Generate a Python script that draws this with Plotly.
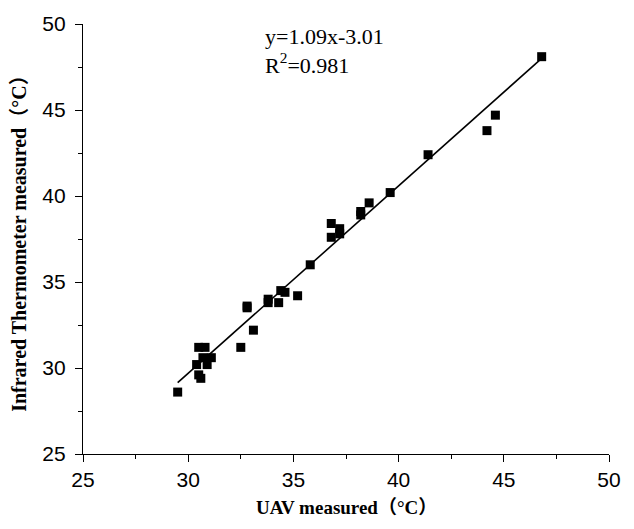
import plotly.graph_objects as go

# Data
uav = [46.8, 44.6, 44.2, 41.4, 39.6, 38.6, 38.2, 38.2, 36.8, 37.2, 37.2, 36.8,
       35.8, 35.2, 34.4, 34.6, 34.3, 33.8, 33.8, 32.8, 32.8, 33.1, 32.5,
       30.5, 30.8, 29.5, 30.7, 31.1, 30.4, 30.9, 30.5, 30.6]
thermo = [48.1, 44.7, 43.8, 42.4, 40.2, 39.6, 39.1, 38.9, 38.4, 38.1, 37.8, 37.6,
          36.0, 34.2, 34.5, 34.4, 33.8, 34.0, 33.8, 33.6, 33.5, 32.2, 31.2,
          31.2, 31.2, 28.6, 30.6, 30.6, 30.2, 30.2, 29.6, 29.4]

slope = 1.09
intercept = -3.01
r2 = 0.981
fit_range = [29.5, 46.8]
fit_vals = [slope * v + intercept for v in fit_range]

tick_vals = [25, 30, 35, 40, 45, 50]

fig = go.Figure()
fig.add_trace(go.Scatter(x=fit_range, y=fit_vals, mode="lines",
                         line=dict(color="black", width=1.6), showlegend=False))
fig.add_trace(go.Scatter(x=uav, y=thermo, mode="markers",
                         marker=dict(symbol="square", size=9, color="black"),
                         showlegend=False))

axis_common = dict(
    range=[25, 50], tickvals=tick_vals, showgrid=False, zeroline=False,
    showline=True, linecolor="black", linewidth=1.2,
    ticks="outside", ticklen=7, tickwidth=1.2, tickcolor="black",
    minor=dict(ticks="outside", ticklen=4, tickwidth=1.2, tickcolor="black", dtick=2.5, showgrid=False),
    tickfont=dict(family="Liberation Sans, Arial, sans-serif", size=21, color="black"),
)

fig.update_xaxes(**axis_common, ticklabelstandoff=0)
fig.update_yaxes(**axis_common, ticklabelstandoff=5)

serif = "Liberation Serif, Times New Roman, Noto Sans CJK SC, serif"
fig.add_annotation(x=0.5, y=-0.125, xref="paper", yref="paper", showarrow=False,
                   text="<b>UAV measured（°C）</b>", xanchor="center", yanchor="middle",
                   font=dict(family=serif, size=19, color="black"))
fig.add_annotation(x=-0.122, y=0.5, xref="paper", yref="paper", showarrow=False,
                   text="<b>Infrared Thermometer measured（°C）</b>", textangle=-90,
                   xanchor="center", yanchor="middle",
                   font=dict(family=serif, size=20, color="black"))
fig.add_annotation(x=0.343, y=1.004, xref="paper", yref="paper", showarrow=False,
                   text=f"y={slope:.2f}x{intercept:+.2f}<br>R<sup>2</sup>={r2:.3f}",
                   xanchor="left", yanchor="top", align="left",
                   font=dict(family=serif, size=22, color="black"))

fig.update_layout(
    width=634, height=529,
    margin=dict(l=83, r=25, t=21, b=75),
    plot_bgcolor="white", paper_bgcolor="white",
)

fig.write_html("out.html")
